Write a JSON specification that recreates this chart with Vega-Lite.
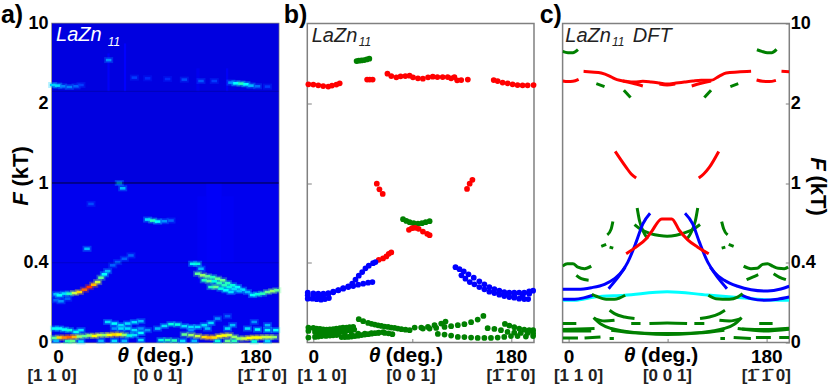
{"$schema":"https://vega.github.io/schema/vega-lite/v6.json","padding":{"left":0,"top":1.5,"right":8,"bottom":2},"background":"white","bounds":"flush","spacing":28.3,"config":{"view":{"stroke":"#808080","strokeWidth":1.5},"text":{"font":"Liberation Sans"},"axis":{"labelFont":"Liberation Sans","labelFontWeight":"bold","labelFontSize":18,"labelColor":"black","domain":false,"grid":false,"title":null,"labelOverlap":false,"labelFlush":false}},
"hconcat":[
{"width":226.7,"height":319,
"encoding":{"x":{"field":"t","type":"quantitative","scale":{"domain":[-5.5,201],"nice":false,"zero":false},"axis":{"values":[0,90,180],"labelExpr":"datum.value==90?'':datum.label","labelFontSize":19,"ticks":false,"labelPadding":5}},"y":{"field":"F","type":"quantitative","scale":{"domain":[0,0.4,1,2,10],"range":[319,239.25,159.5,79.75,0],"nice":false,"zero":false},"axis":{"values":[0,0.4,1,2,10],"labelExpr":"''+datum.value","ticks":false,"labelPadding":4,"labelBaseline":"middle"}}},
"layer":[
{"data":{"values":[{"t":-5.5,"t2":201,"F":0,"F2":1,"v":0.06},{"t":-5.5,"t2":201,"F":1,"F2":10,"v":0.02},{"t":135,"t2":149,"F":0.4,"F2":1,"v":0.085},{"t":127,"t2":135,"F":0.3,"F2":0.9,"v":0.075},{"t":149,"t2":160,"F":0.4,"F2":0.9,"v":0.075},{"t":45,"t2":47,"F":3.2,"F2":7,"v":0.09},{"t":60,"t2":62,"F":3.2,"F2":8,"v":0.1},{"t":126,"t2":129,"F":3.2,"F2":5.5,"v":0.06},{"t":153,"t2":155,"F":3.2,"F2":5.5,"v":0.08}]},"mark":{"type":"rect"},"encoding":{"x2":{"field":"t2"},"y2":{"field":"F2"},"color":{"field":"v","type":"quantitative","legend":null,"scale":{"domain":[0,0.1,0.35,0.5,0.65,0.85,1],"range":["#0000d8","#0000ff","#00ffff","#60ff90","#ffff00","#ff6000","#ff0000"]}}}},
{"data":{"name":"heat","values":[{"t":-4.9,"F":3.83,"v":0.28},{"t":-0.3,"F":3.77,"v":0.3},{"t":4.2,"F":3.7,"v":0.18},{"t":10.3,"F":3.63,"v":0.18},{"t":16.4,"F":3.7,"v":0.15},{"t":20.9,"F":3.83,"v":0.12},{"t":69.5,"F":4.57,"v":0.12},{"t":81.6,"F":4.5,"v":0.11},{"t":99.8,"F":4.43,"v":0.11},{"t":115,"F":4.37,"v":0.13},{"t":130.2,"F":4.23,"v":0.14},{"t":142.3,"F":4.23,"v":0.12},{"t":157.5,"F":4.07,"v":0.2},{"t":162,"F":4,"v":0.35},{"t":166.6,"F":3.97,"v":0.45},{"t":171.1,"F":3.9,"v":0.35},{"t":175.7,"F":3.77,"v":0.25},{"t":181.7,"F":3.7,"v":0.16},{"t":190.8,"F":3.67,"v":0.12},{"t":46.1,"F":6.33,"v":0.2},{"t":26.4,"F":0.505,"v":0.25},{"t":81.6,"F":0.725,"v":0.3},{"t":86.2,"F":0.7175,"v":0.45},{"t":90.7,"F":0.71,"v":0.35},{"t":96.8,"F":0.7125,"v":0.2},{"t":102.9,"F":0.7175,"v":0.15},{"t":55.8,"F":1,"v":0.25},{"t":58.9,"F":0.96,"v":0.25},{"t":30,"F":0.8425,"v":0.13},{"t":5.8,"F":0.245,"v":0.3},{"t":10.3,"F":0.245,"v":0.45},{"t":14.9,"F":0.248,"v":0.6},{"t":19.4,"F":0.253,"v":0.7},{"t":24,"F":0.265,"v":0.85},{"t":28.5,"F":0.278,"v":0.95},{"t":32.5,"F":0.29,"v":0.75},{"t":36.1,"F":0.303,"v":0.6},{"t":39.1,"F":0.325,"v":0.5},{"t":42.2,"F":0.342,"v":0.35},{"t":45.2,"F":0.358,"v":0.25},{"t":49.8,"F":0.387,"v":0.15},{"t":54.3,"F":0.405,"v":0.15},{"t":60.4,"F":0.43,"v":0.15},{"t":66.4,"F":0.455,"v":0.15},{"t":-1.8,"F":0.242,"v":0.25},{"t":1.2,"F":0.237,"v":0.35},{"t":-1.8,"F":0.212,"v":0.15},{"t":2.7,"F":0.207,"v":0.2},{"t":8.8,"F":0.22,"v":0.15},{"t":122.6,"F":0.395,"v":0.35},{"t":127.1,"F":0.395,"v":0.4},{"t":130.2,"F":0.37,"v":0.25},{"t":127.1,"F":0.345,"v":0.5},{"t":131.7,"F":0.337,"v":0.55},{"t":136.2,"F":0.332,"v":0.5},{"t":140.8,"F":0.328,"v":0.45},{"t":145.3,"F":0.32,"v":0.5},{"t":149.9,"F":0.312,"v":0.5},{"t":154.4,"F":0.298,"v":0.45},{"t":159,"F":0.287,"v":0.4},{"t":163.5,"F":0.278,"v":0.35},{"t":168.1,"F":0.265,"v":0.3},{"t":172.6,"F":0.253,"v":0.25},{"t":133.2,"F":0.312,"v":0.45},{"t":137.7,"F":0.308,"v":0.5},{"t":142.3,"F":0.307,"v":0.4},{"t":146.8,"F":0.298,"v":0.45},{"t":151.4,"F":0.287,"v":0.45},{"t":155.9,"F":0.278,"v":0.4},{"t":160.5,"F":0.268,"v":0.3},{"t":165,"F":0.258,"v":0.25},{"t":139.3,"F":0.278,"v":0.45},{"t":143.8,"F":0.278,"v":0.5},{"t":148.4,"F":0.27,"v":0.4},{"t":152.9,"F":0.262,"v":0.35},{"t":157.5,"F":0.253,"v":0.3},{"t":177.2,"F":0.238,"v":0.35},{"t":181.7,"F":0.242,"v":0.4},{"t":186.3,"F":0.245,"v":0.45},{"t":190.8,"F":0.253,"v":0.5},{"t":195.4,"F":0.258,"v":0.55},{"t":199.3,"F":0.262,"v":0.5},{"t":-3.3,"F":0.07,"v":0.35},{"t":1.2,"F":0.07,"v":0.35},{"t":5.8,"F":0.065,"v":0.35},{"t":10.3,"F":0.062,"v":0.4},{"t":16.4,"F":0.053,"v":0.35},{"t":20.9,"F":0.062,"v":0.3},{"t":45.2,"F":0.103,"v":0.3},{"t":51.3,"F":0.095,"v":0.35},{"t":57.3,"F":0.087,"v":0.3},{"t":63.4,"F":0.095,"v":0.3},{"t":69.5,"F":0.102,"v":0.3},{"t":75.5,"F":0.107,"v":0.25},{"t":51.3,"F":0.07,"v":0.2},{"t":57.3,"F":0.07,"v":0.3},{"t":63.4,"F":0.07,"v":0.3},{"t":69.5,"F":0.062,"v":0.3},{"t":75.5,"F":0.048,"v":0.35},{"t":69.5,"F":0.037,"v":0.3},{"t":75.5,"F":0.07,"v":0.2},{"t":81.6,"F":0.062,"v":0.2},{"t":90.7,"F":0.07,"v":0.25},{"t":96.8,"F":0.083,"v":0.3},{"t":102.9,"F":0.092,"v":0.4},{"t":108.9,"F":0.09,"v":0.4},{"t":115,"F":0.082,"v":0.3},{"t":121.1,"F":0.078,"v":0.3},{"t":127.1,"F":0.078,"v":0.3},{"t":133.2,"F":0.087,"v":0.3},{"t":139.3,"F":0.098,"v":0.3},{"t":145.3,"F":0.12,"v":0.2},{"t":154.4,"F":0.132,"v":0.15},{"t":121.1,"F":0.062,"v":0.2},{"t":136.2,"F":0.07,"v":0.25},{"t":154.4,"F":0.07,"v":0.3},{"t":159,"F":0.087,"v":0.25},{"t":172.6,"F":0.07,"v":0.3},{"t":181.7,"F":0.065,"v":0.35},{"t":190.8,"F":0.062,"v":0.35},{"t":198.4,"F":0.062,"v":0.35},{"t":178.7,"F":0.103,"v":0.2},{"t":190.8,"F":0.087,"v":0.25},{"t":-1.8,"F":0.008,"v":0.25},{"t":8.8,"F":0.007,"v":0.45},{"t":13.3,"F":0.007,"v":0.5},{"t":20.9,"F":0.005,"v":0.3},{"t":39.1,"F":0.008,"v":0.25},{"t":51.3,"F":0.008,"v":0.3},{"t":60.4,"F":0.008,"v":0.25},{"t":75.5,"F":0.012,"v":0.3},{"t":93.8,"F":0.012,"v":0.4},{"t":99.8,"F":0.012,"v":0.45},{"t":105.9,"F":0.01,"v":0.45},{"t":113.5,"F":0.008,"v":0.3},{"t":124.1,"F":0.008,"v":0.25},{"t":145.3,"F":0.008,"v":0.4},{"t":154.4,"F":0.008,"v":0.5},{"t":160.5,"F":0.008,"v":0.45},{"t":178.7,"F":0.005,"v":0.4},{"t":190.8,"F":0.007,"v":0.3},{"t":-3.3,"F":0.023,"v":0.5},{"t":1.2,"F":0.025,"v":0.7},{"t":5.8,"F":0.025,"v":0.8},{"t":10.3,"F":0.027,"v":0.85},{"t":14.9,"F":0.028,"v":0.75},{"t":19.4,"F":0.03,"v":0.55},{"t":24,"F":0.032,"v":0.5},{"t":28.5,"F":0.035,"v":0.55},{"t":33.1,"F":0.033,"v":0.65},{"t":37.6,"F":0.037,"v":0.6},{"t":42.2,"F":0.037,"v":0.55},{"t":46.7,"F":0.038,"v":0.65},{"t":51.3,"F":0.04,"v":0.7},{"t":55.8,"F":0.04,"v":0.65},{"t":60.4,"F":0.038,"v":0.55},{"t":64.9,"F":0.035,"v":0.4},{"t":115,"F":0.04,"v":0.5},{"t":121.1,"F":0.037,"v":0.55},{"t":127.1,"F":0.032,"v":0.6},{"t":133.2,"F":0.027,"v":0.7},{"t":137.7,"F":0.025,"v":0.75},{"t":142.3,"F":0.025,"v":0.7},{"t":146.8,"F":0.032,"v":0.65},{"t":151.4,"F":0.035,"v":0.65},{"t":155.9,"F":0.037,"v":0.6},{"t":160.5,"F":0.028,"v":0.55},{"t":165,"F":0.02,"v":0.55},{"t":169.6,"F":0.02,"v":0.6},{"t":174.2,"F":0.023,"v":0.65},{"t":178.7,"F":0.025,"v":0.65},{"t":183.3,"F":0.025,"v":0.65},{"t":187.8,"F":0.027,"v":0.6},{"t":192.4,"F":0.027,"v":0.6},{"t":196.9,"F":0.027,"v":0.55}]},"mark":{"type":"rect","width":9,"height":6,"opacity":0.3},"encoding":{"color":{"field":"v","type":"quantitative","legend":null}}},
{"data":{"name":"heat"},"mark":{"type":"rect","width":5.5,"height":2.6},"encoding":{"color":{"field":"v","type":"quantitative","legend":null}}},
{"data":{"values":[{"t":-5.5,"t2":201,"F":1,"o":0.75},{"t":-5.5,"t2":201,"F":0.4,"o":0.15},{"t":-5.5,"t2":201,"F":3.2,"o":0.2}]},"mark":{"type":"rule","color":"black","strokeWidth":1},"encoding":{"x2":{"field":"t2"},"opacity":{"field":"o","type":"quantitative","scale":null}}},
{"data":{"values":[{"t":-1.8,"F":8.8,"txt":"LaZn"}]},"mark":{"type":"text","align":"left","baseline":"middle","fontSize":20,"fontStyle":"italic","color":"white"},"encoding":{"text":{"field":"txt"}}},
{"data":{"values":[{"t":45.2,"F":8.17,"txt":"11"}]},"mark":{"type":"text","align":"left","baseline":"middle","fontSize":12,"fontStyle":"italic","color":"white"},"encoding":{"text":{"field":"txt"}}},
{"data":{"values":[{"t":-52,"F":10.9,"txt":"a)"}]},"mark":{"type":"text","align":"left","baseline":"middle","fontSize":25,"fontWeight":"bold","color":"black"},"encoding":{"text":{"field":"txt"}}},
{"data":{"values":[{"t":-33.7,"F":0.88,"txt":"F"}]},"mark":{"type":"text","angle":270,"align":"center","baseline":"middle","fontSize":22,"fontStyle":"italic","fontWeight":"bold","color":"black"},"encoding":{"text":{"field":"txt"}}},
{"data":{"values":[{"t":-33.7,"F":1.208,"txt":"(kT)"}]},"mark":{"type":"text","angle":270,"align":"center","baseline":"middle","fontSize":22,"fontWeight":"bold","color":"black"},"encoding":{"text":{"field":"txt"}}},
{"data":{"values":[{"t":59.2,"F":-0.07,"txt":"θ"}]},"mark":{"type":"text","align":"center","baseline":"middle","fontSize":21,"fontStyle":"italic","fontWeight":"bold","color":"black"},"encoding":{"text":{"field":"txt"}}},
{"data":{"values":[{"t":97.5,"F":-0.07,"txt":"(deg.)"}]},"mark":{"type":"text","align":"center","baseline":"middle","fontSize":21,"fontWeight":"bold","color":"black"},"encoding":{"text":{"field":"txt"}}},
{"data":{"values":[{"t":-5.5,"F":-0.17,"txt":"[1 1 0]"},{"t":91,"F":-0.17,"txt":"[0 0 1]"},{"t":186,"F":-0.17,"txt":"[1̄ 1̄ 0]"}]},"mark":{"type":"text","align":"center","baseline":"middle","fontSize":17,"fontWeight":"bold","color":"#222222"},"encoding":{"text":{"field":"txt"}}}
]},
{"width":226.7,"height":319,
"encoding":{"x":{"field":"t","type":"quantitative","scale":{"domain":[-5.5,201],"nice":false,"zero":false},"axis":{"values":[0,90,180],"labelExpr":"datum.value==90?'':datum.label","labelFontSize":19,"tickColor":"#808080","tickSize":-4,"labelPadding":9}},"y":{"field":"F","type":"quantitative","scale":{"domain":[0,0.4,1,2,10],"range":[319,239.25,159.5,79.75,0],"nice":false,"zero":false},"axis":{"values":[0.4,1,2],"labels":false,"tickColor":"#808080","tickSize":-4}}},
"layer":[
{"data":{"values":[
{"t":-4.5,"F":3.9,"c":"red"},{"t":0,"F":3.87,"c":"red"},{"t":4.5,"F":3.8,"c":"red"},{"t":9,"F":3.73,"c":"red"},{"t":13.6,"F":3.67,"c":"red"},{"t":17,"F":3.77,"c":"red"},{"t":21,"F":3.87,"c":"red"},{"t":24,"F":4,"c":"red"},
{"t":39.4,"F":6.23,"c":"green"},{"t":41.4,"F":6.27,"c":"green"},{"t":43.8,"F":6.3,"c":"green"},{"t":46.3,"F":6.33,"c":"green"},{"t":48.7,"F":6.4,"c":"green"},{"t":51,"F":6.47,"c":"green"},
{"t":49,"F":4.37,"c":"red"},{"t":51.4,"F":4.37,"c":"red"},{"t":54,"F":4.37,"c":"red"},
{"t":67.5,"F":4.97,"c":"red"},{"t":71,"F":4.73,"c":"red"},{"t":75.6,"F":4.6,"c":"red"},{"t":79.5,"F":4.7,"c":"red"},{"t":83.8,"F":4.73,"c":"red"},{"t":87.7,"F":4.77,"c":"red"},{"t":90.8,"F":4.6,"c":"red"},{"t":95.3,"F":4.5,"c":"red"},{"t":99.8,"F":4.47,"c":"red"},{"t":104.5,"F":4.6,"c":"red"},{"t":108.8,"F":4.67,"c":"red"},{"t":113,"F":4.63,"c":"red"},{"t":117.8,"F":4.63,"c":"red"},{"t":122.4,"F":4.63,"c":"red"},{"t":125.5,"F":4.5,"c":"red"},{"t":128.5,"F":4.63,"c":"red"},{"t":131,"F":4.3,"c":"red"},{"t":134.7,"F":4.33,"c":"red"},{"t":140.7,"F":4.37,"c":"red"},
{"t":164.3,"F":4.33,"c":"red"},{"t":167.9,"F":4.23,"c":"red"},{"t":172.4,"F":4.07,"c":"red"},{"t":177,"F":4,"c":"red"},{"t":181.5,"F":3.9,"c":"red"},{"t":186,"F":3.83,"c":"red"},{"t":190.6,"F":3.8,"c":"red"},{"t":195.2,"F":3.8,"c":"red"},{"t":200.6,"F":3.83,"c":"red"},
{"t":57.8,"F":0.995,"c":"red"},{"t":60.2,"F":0.9525,"c":"red"},{"t":63.2,"F":0.9175,"c":"red"},
{"t":140,"F":0.955,"c":"red"},{"t":142.4,"F":0.995,"c":"red"},{"t":144.9,"F":1.04,"c":"red"},
{"t":81.7,"F":0.7275,"c":"green"},{"t":84.7,"F":0.715,"c":"green"},{"t":87.7,"F":0.705,"c":"green"},{"t":91.4,"F":0.6975,"c":"green"},{"t":95.3,"F":0.695,"c":"green"},{"t":98.9,"F":0.6975,"c":"green"},{"t":102.3,"F":0.705,"c":"green"},{"t":105.9,"F":0.7125,"c":"green"},
{"t":87.1,"F":0.6475,"c":"red"},{"t":89.8,"F":0.66,"c":"red"},{"t":92.8,"F":0.6625,"c":"red"},{"t":95.9,"F":0.655,"c":"red"},{"t":99.8,"F":0.635,"c":"red"},{"t":103.7,"F":0.6175,"c":"red"},{"t":105.9,"F":0.6075,"c":"red"},
{"t":59.6,"F":0.4225,"c":"red"},{"t":63.5,"F":0.4325,"c":"red"},{"t":66.5,"F":0.4475,"c":"red"},{"t":68.7,"F":0.4675,"c":"red"},{"t":71,"F":0.4775,"c":"red"},
{"t":-5.1,"F":0.25,"c":"blue"},{"t":0,"F":0.247,"c":"blue"},{"t":4.5,"F":0.245,"c":"blue"},{"t":9.1,"F":0.245,"c":"blue"},{"t":13.6,"F":0.248,"c":"blue"},{"t":18.1,"F":0.255,"c":"blue"},{"t":22.7,"F":0.263,"c":"blue"},{"t":27.2,"F":0.273,"c":"blue"},{"t":31.8,"F":0.282,"c":"blue"},{"t":35.4,"F":0.295,"c":"blue"},{"t":38.4,"F":0.315,"c":"blue"},{"t":41.4,"F":0.335,"c":"blue"},{"t":44.5,"F":0.353,"c":"blue"},{"t":47.5,"F":0.372,"c":"blue"},{"t":50.5,"F":0.385,"c":"blue"},{"t":54.4,"F":0.398,"c":"blue"},{"t":56.6,"F":0.405,"c":"blue"},
{"t":-5.1,"F":0.237,"c":"blue"},{"t":0,"F":0.237,"c":"blue"},{"t":4.5,"F":0.235,"c":"blue"},{"t":9.1,"F":0.237,"c":"blue"},{"t":13.6,"F":0.242,"c":"blue"},{"t":18.1,"F":0.252,"c":"blue"},{"t":22.7,"F":0.262,"c":"blue"},{"t":27.2,"F":0.27,"c":"blue"},{"t":31.8,"F":0.278,"c":"blue"},{"t":36.3,"F":0.283,"c":"blue"},{"t":40.8,"F":0.29,"c":"blue"},{"t":45.4,"F":0.295,"c":"blue"},{"t":49.9,"F":0.3,"c":"blue"},{"t":53.8,"F":0.303,"c":"blue"},
{"t":-5.1,"F":0.22,"c":"blue"},{"t":-0.9,"F":0.22,"c":"blue"},{"t":3,"F":0.217,"c":"blue"},{"t":7,"F":0.215,"c":"blue"},{"t":10.6,"F":0.218,"c":"blue"},{"t":14.2,"F":0.223,"c":"blue"},
{"t":129.5,"F":0.378,"c":"blue"},{"t":133.1,"F":0.368,"c":"blue"},{"t":137,"F":0.357,"c":"blue"},{"t":141.3,"F":0.342,"c":"blue"},{"t":146.1,"F":0.325,"c":"blue"},{"t":151.2,"F":0.307,"c":"blue"},{"t":155.8,"F":0.292,"c":"blue"},{"t":160.3,"F":0.278,"c":"blue"},{"t":164.9,"F":0.268,"c":"blue"},{"t":169.4,"F":0.26,"c":"blue"},{"t":173.9,"F":0.253,"c":"blue"},{"t":178.5,"F":0.25,"c":"blue"},{"t":183,"F":0.25,"c":"blue"},{"t":187.5,"F":0.25,"c":"blue"},{"t":192.1,"F":0.25,"c":"blue"},{"t":196.6,"F":0.257,"c":"blue"},{"t":200.2,"F":0.26,"c":"blue"},
{"t":134.9,"F":0.337,"c":"blue"},{"t":138.5,"F":0.32,"c":"blue"},{"t":142.5,"F":0.303,"c":"blue"},{"t":146.7,"F":0.292,"c":"blue"},{"t":151.2,"F":0.278,"c":"blue"},{"t":155.8,"F":0.267,"c":"blue"},{"t":160.3,"F":0.255,"c":"blue"},{"t":164.9,"F":0.248,"c":"blue"},{"t":169.4,"F":0.24,"c":"blue"},{"t":173.9,"F":0.233,"c":"blue"},{"t":178.5,"F":0.228,"c":"blue"},{"t":183,"F":0.225,"c":"blue"},{"t":187.5,"F":0.22,"c":"blue"},{"t":192.1,"F":0.218,"c":"blue"},{"t":195.7,"F":0.218,"c":"blue"},
{"t":173.9,"F":0.245,"c":"blue"},{"t":183,"F":0.235,"c":"blue"},{"t":190.6,"F":0.235,"c":"blue"},{"t":196.6,"F":0.245,"c":"blue"},
{"t":41.4,"F":0.117,"c":"green"},{"t":45.4,"F":0.107,"c":"green"},{"t":49.9,"F":0.098,"c":"green"},{"t":53,"F":0.094,"c":"green"},{"t":56,"F":0.09,"c":"green"},{"t":59,"F":0.086,"c":"green"},{"t":62,"F":0.083,"c":"green"},{"t":65,"F":0.08,"c":"green"},{"t":68.1,"F":0.078,"c":"green"},{"t":71,"F":0.075,"c":"green"},{"t":74.1,"F":0.073,"c":"green"},{"t":77,"F":0.07,"c":"green"},{"t":80.2,"F":0.067,"c":"green"},{"t":84,"F":0.064,"c":"green"},{"t":87.7,"F":0.062,"c":"green"},{"t":92.3,"F":0.075,"c":"green"},{"t":98.3,"F":0.075,"c":"green"},{"t":104.4,"F":0.078,"c":"green"},{"t":110.4,"F":0.087,"c":"green"},{"t":116.5,"F":0.095,"c":"green"},{"t":120.4,"F":0.105,"c":"green"},
{"t":99.8,"F":0.07,"c":"green"},{"t":105.9,"F":0.07,"c":"green"},{"t":111.9,"F":0.073,"c":"green"},{"t":119.5,"F":0.078,"c":"green"},{"t":125.5,"F":0.082,"c":"green"},{"t":131.6,"F":0.087,"c":"green"},{"t":137.6,"F":0.092,"c":"green"},{"t":143.7,"F":0.102,"c":"green"},{"t":149.7,"F":0.115,"c":"green"},{"t":154.9,"F":0.133,"c":"green"},
{"t":113.4,"F":0.043,"c":"green"},{"t":119.5,"F":0.04,"c":"green"},{"t":125.5,"F":0.035,"c":"green"},{"t":131.6,"F":0.028,"c":"green"},{"t":137.6,"F":0.027,"c":"green"},{"t":143.7,"F":0.025,"c":"green"},{"t":149.7,"F":0.023,"c":"green"},{"t":155.8,"F":0.023,"c":"green"},{"t":161.8,"F":0.023,"c":"green"},{"t":167.9,"F":0.025,"c":"green"},{"t":173.9,"F":0.028,"c":"green"},{"t":180,"F":0.032,"c":"green"},{"t":186,"F":0.032,"c":"green"},{"t":193.6,"F":0.03,"c":"green"},{"t":200.2,"F":0.032,"c":"green"},
{"t":158.8,"F":0.072,"c":"green"},{"t":164.9,"F":0.068,"c":"green"},{"t":170.9,"F":0.062,"c":"green"},{"t":176.9,"F":0.053,"c":"green"},{"t":183,"F":0.05,"c":"green"},{"t":189,"F":0.048,"c":"green"},{"t":195.1,"F":0.048,"c":"green"},{"t":200.2,"F":0.047,"c":"green"},
{"t":174.5,"F":0.093,"c":"green"},{"t":178.5,"F":0.085,"c":"green"},{"t":183,"F":0.077,"c":"green"},{"t":187.5,"F":0.07,"c":"green"},{"t":192.1,"F":0.065,"c":"green"},{"t":196.6,"F":0.062,"c":"green"},{"t":200.2,"F":0.062,"c":"green"},
{"t":-4.5,"F":0.075,"c":"green"},{"t":0,"F":0.073,"c":"green"},{"t":3,"F":0.07,"c":"green"},{"t":6,"F":0.068,"c":"green"},{"t":9,"F":0.066,"c":"green"},{"t":12.1,"F":0.065,"c":"green"},{"t":15,"F":0.066,"c":"green"},{"t":18.1,"F":0.067,"c":"green"},{"t":21,"F":0.07,"c":"green"},{"t":24.2,"F":0.072,"c":"green"},{"t":27,"F":0.074,"c":"green"},{"t":30.2,"F":0.075,"c":"green"},{"t":33,"F":0.077,"c":"green"},{"t":36.3,"F":0.078,"c":"green"},
{"t":-4.5,"F":0.058,"c":"green"},{"t":1.5,"F":0.053,"c":"green"},{"t":4.5,"F":0.052,"c":"green"},{"t":7.6,"F":0.05,"c":"green"},{"t":10.6,"F":0.049,"c":"green"},{"t":13.6,"F":0.048,"c":"green"},{"t":16.6,"F":0.05,"c":"green"},{"t":19.7,"F":0.052,"c":"green"},{"t":22.7,"F":0.054,"c":"green"},{"t":25.7,"F":0.055,"c":"green"},{"t":28.7,"F":0.058,"c":"green"},{"t":31.8,"F":0.062,"c":"green"},{"t":34.5,"F":0.063,"c":"green"},{"t":37.2,"F":0.065,"c":"green"},
{"t":-4.5,"F":0.025,"c":"green"},{"t":1.5,"F":0.028,"c":"green"},{"t":4.5,"F":0.03,"c":"green"},{"t":7.6,"F":0.032,"c":"green"},{"t":11.5,"F":0.033,"c":"green"},{"t":15.1,"F":0.035,"c":"green"},{"t":18,"F":0.036,"c":"green"},{"t":21.2,"F":0.037,"c":"green"},{"t":25.7,"F":0.027,"c":"green"},{"t":28.7,"F":0.027,"c":"green"},{"t":31.8,"F":0.028,"c":"green"},{"t":34.8,"F":0.03,"c":"green"},{"t":37.8,"F":0.032,"c":"green"},{"t":40.8,"F":0.034,"c":"green"},{"t":43.9,"F":0.037,"c":"green"},{"t":46.9,"F":0.04,"c":"green"},{"t":49.9,"F":0.042,"c":"green"},{"t":53,"F":0.044,"c":"green"},{"t":56,"F":0.047,"c":"green"},{"t":59.7,"F":0.05,"c":"green"},{"t":63.5,"F":0.052,"c":"green"},
{"t":22.7,"F":0.045,"c":"green"},{"t":28.7,"F":0.045,"c":"green"},{"t":34.8,"F":0.04,"c":"green"},{"t":40.8,"F":0.045,"c":"green"},{"t":46.9,"F":0.045,"c":"green"},{"t":52.9,"F":0.047,"c":"green"},{"t":59,"F":0.048,"c":"green"},{"t":65,"F":0.048,"c":"green"},{"t":68.5,"F":0.046,"c":"green"},{"t":72,"F":0.042,"c":"green"}
]},"mark":{"type":"circle","size":33,"opacity":1},"encoding":{"color":{"field":"c","type":"nominal","legend":null,"scale":{"domain":["red","green","blue","cyan"],"range":["#ff0000","#008000","#0000ff","#00ffff"]}}}},
{"data":{"values":[{"t":-1.5,"F":8.73,"txt":"LaZn"}]},"mark":{"type":"text","align":"left","baseline":"middle","fontSize":20,"fontStyle":"italic","color":"#222222"},"encoding":{"text":{"field":"txt"}}},
{"data":{"values":[{"t":41.4,"F":8.17,"txt":"11"}]},"mark":{"type":"text","align":"left","baseline":"middle","fontSize":12,"fontStyle":"italic","color":"#222222"},"encoding":{"text":{"field":"txt"}}},
{"data":{"values":[{"t":-27,"F":10.9,"txt":"b)"}]},"mark":{"type":"text","align":"left","baseline":"middle","fontSize":25,"fontWeight":"bold","color":"black"},"encoding":{"text":{"field":"txt"}}},
{"data":{"values":[{"t":55.7,"F":-0.07,"txt":"θ"}]},"mark":{"type":"text","align":"center","baseline":"middle","fontSize":21,"fontStyle":"italic","fontWeight":"bold","color":"black"},"encoding":{"text":{"field":"txt"}}},
{"data":{"values":[{"t":92,"F":-0.07,"txt":"(deg.)"}]},"mark":{"type":"text","align":"center","baseline":"middle","fontSize":21,"fontWeight":"bold","color":"black"},"encoding":{"text":{"field":"txt"}}},
{"data":{"values":[{"t":8,"F":-0.17,"txt":"[1 1 0]"},{"t":89,"F":-0.17,"txt":"[0 0 1]"},{"t":180,"F":-0.17,"txt":"[1̄ 1̄ 0]"}]},"mark":{"type":"text","align":"center","baseline":"middle","fontSize":17,"fontWeight":"bold","color":"#222222"},"encoding":{"text":{"field":"txt"}}}
]},
{"width":226.7,"height":319,
"encoding":{"x":{"field":"t","type":"quantitative","scale":{"domain":[-5.5,201],"nice":false,"zero":false},"axis":{"values":[0,90,180],"labelExpr":"datum.value==90?'':datum.label","labelFontSize":19,"tickColor":"#808080","tickSize":-4,"labelPadding":9}},"y":{"field":"F","type":"quantitative","scale":{"domain":[0,0.4,1,2,10],"range":[319,239.25,159.5,79.75,0],"nice":false,"zero":false},"axis":{"orient":"right","values":[0,0.4,1,2,10],"labelExpr":"''+datum.value","tickColor":"#808080","tickSize":-4,"labelPadding":5,"labelBaseline":"middle"}}},
"layer":[
{"data":{"values":[
{"s":1,"c":"green","t":-5.5,"F":7.2},{"s":1,"c":"green","t":-0.6,"F":7.07},{"s":1,"c":"green","t":3.9,"F":7.07},{"s":1,"c":"green","t":8.5,"F":7.37},
{"s":2,"c":"green","t":171.5,"F":7.37},{"s":2,"c":"green","t":176,"F":7.2},{"s":2,"c":"green","t":181,"F":7.07},{"s":2,"c":"green","t":185,"F":7.07},{"s":2,"c":"green","t":189.4,"F":7.4},
{"s":3,"c":"red","t":-5.5,"F":4.23},{"s":3,"c":"red","t":-0.6,"F":4.17},{"s":3,"c":"red","t":3.9,"F":4.2},{"s":3,"c":"red","t":9.1,"F":4.4},
{"s":4,"c":"red","t":171.2,"F":4.33},{"s":4,"c":"red","t":176.7,"F":4.2},{"s":4,"c":"red","t":182.7,"F":4.17},{"s":4,"c":"red","t":188.8,"F":4.3},
{"s":5,"c":"red","t":193.9,"F":5.2},{"s":5,"c":"red","t":200.9,"F":5.17},
{"s":6,"c":"red","t":13.6,"F":5.2},{"s":6,"c":"red","t":20.6,"F":5.13},{"s":6,"c":"red","t":29.7,"F":5.03},{"s":6,"c":"red","t":37.3,"F":4.73},{"s":6,"c":"red","t":41.8,"F":4.47},{"s":6,"c":"red","t":46.4,"F":4.3},{"s":6,"c":"red","t":52.4,"F":4.2},{"s":6,"c":"red","t":60,"F":4.13},{"s":6,"c":"red","t":67.6,"F":4.2},{"s":6,"c":"red","t":75.2,"F":4.13},{"s":6,"c":"red","t":82.7,"F":4.03},{"s":6,"c":"red","t":89.7,"F":3.93},{"s":6,"c":"red","t":97.9,"F":4.03},{"s":6,"c":"red","t":105.5,"F":4.13},{"s":6,"c":"red","t":113.2,"F":4.23},{"s":6,"c":"red","t":120.8,"F":4.3},{"s":6,"c":"red","t":129.8,"F":4.3},{"s":6,"c":"red","t":137.3,"F":4.73},{"s":6,"c":"red","t":143.5,"F":5.03},{"s":6,"c":"red","t":154,"F":5.13},{"s":6,"c":"red","t":166.2,"F":5.2},
{"s":7,"c":"red","t":49.4,"F":4.23},{"s":7,"c":"red","t":58.5,"F":4},{"s":7,"c":"red","t":67.6,"F":3.73},
{"s":8,"c":"red","t":112.1,"F":3.73},{"s":8,"c":"red","t":120.6,"F":4},{"s":8,"c":"red","t":129.7,"F":4.23},
{"s":9,"c":"red","t":82.7,"F":3.93},{"s":9,"c":"red","t":89.7,"F":3.83},{"s":9,"c":"red","t":97,"F":3.93},
{"s":10,"c":"green","t":25.2,"F":3.97},{"s":10,"c":"green","t":32.7,"F":3.67},
{"s":11,"c":"green","t":147.3,"F":3.67},{"s":11,"c":"green","t":154.5,"F":3.97},
{"s":12,"c":"green","t":50.3,"F":3.3},{"s":12,"c":"green","t":56.4,"F":2.57},
{"s":13,"c":"green","t":123.6,"F":2.57},{"s":13,"c":"green","t":129.7,"F":3.3},
{"s":14,"c":"red","t":42.4,"F":1.396},{"s":14,"c":"red","t":52.4,"F":1.196},{"s":14,"c":"red","t":57,"F":1.1125},{"s":14,"c":"red","t":61.5,"F":1.0625},
{"s":15,"c":"red","t":118.5,"F":1.0625},{"s":15,"c":"red","t":123,"F":1.1125},{"s":15,"c":"red","t":128.1,"F":1.196},{"s":15,"c":"red","t":136.7,"F":1.396},
{"s":16,"c":"green","t":62.4,"F":0.8125},{"s":16,"c":"green","t":64.5,"F":0.7175},{"s":16,"c":"green","t":69.1,"F":0.6175},{"s":16,"c":"green","t":72.1,"F":0.58},
{"s":17,"c":"green","t":60,"F":0.6875},{"s":17,"c":"green","t":66,"F":0.65},{"s":17,"c":"green","t":75.2,"F":0.6175},{"s":17,"c":"green","t":82.7,"F":0.605},{"s":17,"c":"green","t":89.7,"F":0.6},{"s":17,"c":"green","t":97.9,"F":0.6075},{"s":17,"c":"green","t":105.5,"F":0.625},{"s":17,"c":"green","t":113.2,"F":0.65},{"s":17,"c":"green","t":119.7,"F":0.6875},
{"s":18,"c":"green","t":107.9,"F":0.58},{"s":18,"c":"green","t":110.9,"F":0.6175},{"s":18,"c":"green","t":115.5,"F":0.7175},{"s":18,"c":"green","t":117.6,"F":0.8125},
{"s":19,"c":"blue","t":-5.5,"F":0.267},{"s":19,"c":"blue","t":8.5,"F":0.267},{"s":19,"c":"blue","t":20.6,"F":0.275},{"s":19,"c":"blue","t":32.7,"F":0.292},{"s":19,"c":"blue","t":41.8,"F":0.32},{"s":19,"c":"blue","t":49.4,"F":0.362},{"s":19,"c":"blue","t":53.9,"F":0.405},{"s":19,"c":"blue","t":61.5,"F":0.555},{"s":19,"c":"blue","t":67.6,"F":0.6925},{"s":19,"c":"blue","t":74.2,"F":0.7725},
{"s":20,"c":"blue","t":106,"F":0.7725},{"s":20,"c":"blue","t":113,"F":0.6925},{"s":20,"c":"blue","t":119.1,"F":0.555},{"s":20,"c":"blue","t":126.7,"F":0.405},{"s":20,"c":"blue","t":132.7,"F":0.353},{"s":20,"c":"blue","t":141.8,"F":0.312},{"s":20,"c":"blue","t":154,"F":0.282},{"s":20,"c":"blue","t":166.2,"F":0.265},{"s":20,"c":"blue","t":181.2,"F":0.258},{"s":20,"c":"blue","t":193.3,"F":0.268},{"s":20,"c":"blue","t":200.9,"F":0.282},
{"s":21,"c":"blue","t":36.4,"F":0.27},{"s":21,"c":"blue","t":43.3,"F":0.315},{"s":21,"c":"blue","t":51.5,"F":0.378},
{"s":22,"c":"blue","t":129.1,"F":0.378},{"s":22,"c":"blue","t":137.3,"F":0.315},{"s":22,"c":"blue","t":144.2,"F":0.27},
{"s":23,"c":"cyan","t":-5.5,"F":0.212},{"s":23,"c":"cyan","t":5.5,"F":0.212},{"s":23,"c":"cyan","t":23.6,"F":0.228},{"s":23,"c":"cyan","t":50.9,"F":0.237},{"s":23,"c":"cyan","t":89.7,"F":0.255},{"s":23,"c":"cyan","t":126.7,"F":0.238},{"s":23,"c":"cyan","t":157,"F":0.225},{"s":23,"c":"cyan","t":178.2,"F":0.215},{"s":23,"c":"cyan","t":200.9,"F":0.212},
{"s":24,"c":"blue","t":-5.5,"F":0.217},{"s":24,"c":"blue","t":5.5,"F":0.217},{"s":24,"c":"blue","t":14.5,"F":0.225},{"s":24,"c":"blue","t":22.1,"F":0.237},
{"s":25,"c":"blue","t":157.6,"F":0.237},{"s":25,"c":"blue","t":166,"F":0.22},{"s":25,"c":"blue","t":178.2,"F":0.212},{"s":25,"c":"blue","t":190.3,"F":0.217},{"s":25,"c":"blue","t":200.9,"F":0.228},
{"s":26,"c":"red","t":52.4,"F":0.4675},{"s":26,"c":"red","t":60,"F":0.51},{"s":26,"c":"red","t":70.6,"F":0.58},{"s":26,"c":"red","t":75.2,"F":0.63},{"s":26,"c":"red","t":84.8,"F":0.73},{"s":26,"c":"red","t":93.9,"F":0.73},{"s":26,"c":"red","t":100.9,"F":0.6425},{"s":26,"c":"red","t":108.5,"F":0.5725},{"s":26,"c":"red","t":117.6,"F":0.5175},{"s":26,"c":"red","t":127.6,"F":0.4675},
{"s":27,"c":"green","t":35.2,"F":0.61},{"s":27,"c":"green","t":38.8,"F":0.655},{"s":27,"c":"green","t":40.3,"F":0.71},
{"s":28,"c":"green","t":139.4,"F":0.71},{"s":28,"c":"green","t":141.2,"F":0.655},{"s":28,"c":"green","t":144.8,"F":0.61},
{"s":29,"c":"green","t":29.7,"F":0.5225},{"s":29,"c":"green","t":34.2,"F":0.5375},
{"s":30,"c":"green","t":37.3,"F":0.5175},{"s":30,"c":"green","t":40.6,"F":0.51},
{"s":31,"c":"green","t":139.4,"F":0.51},{"s":31,"c":"green","t":142.7,"F":0.5175},
{"s":32,"c":"green","t":145.8,"F":0.5375},{"s":32,"c":"green","t":150.3,"F":0.5225},
{"s":33,"c":"green","t":-5.5,"F":0.383},{"s":33,"c":"green","t":-1.2,"F":0.395},{"s":33,"c":"green","t":3.9,"F":0.395},{"s":33,"c":"green","t":8.5,"F":0.378},{"s":33,"c":"green","t":14.5,"F":0.37},{"s":33,"c":"green","t":20.6,"F":0.383},
{"s":34,"c":"green","t":159.4,"F":0.383},{"s":34,"c":"green","t":166,"F":0.37},{"s":34,"c":"green","t":171.6,"F":0.372},{"s":34,"c":"green","t":176.7,"F":0.392},{"s":34,"c":"green","t":181.2,"F":0.395},{"s":34,"c":"green","t":185.8,"F":0.383},{"s":34,"c":"green","t":190.9,"F":0.372},{"s":34,"c":"green","t":196.4,"F":0.37},{"s":34,"c":"green","t":200,"F":0.378},
{"s":35,"c":"green","t":7,"F":0.337},{"s":35,"c":"green","t":11.5,"F":0.32},{"s":35,"c":"green","t":18.2,"F":0.312},
{"s":36,"c":"green","t":162.1,"F":0.315},{"s":36,"c":"green","t":167.6,"F":0.328},{"s":36,"c":"green","t":172.7,"F":0.34},
{"s":37,"c":"green","t":186.7,"F":0.345},{"s":37,"c":"green","t":191.8,"F":0.328},{"s":37,"c":"green","t":197.9,"F":0.315},
{"s":38,"c":"green","t":21.2,"F":0.242},{"s":38,"c":"green","t":25.2,"F":0.232},{"s":38,"c":"green","t":34.2,"F":0.217},{"s":38,"c":"green","t":41.8,"F":0.217},{"s":38,"c":"green","t":51.5,"F":0.237},
{"s":39,"c":"green","t":127.3,"F":0.237},{"s":39,"c":"green","t":134.2,"F":0.22},{"s":39,"c":"green","t":146.4,"F":0.217},{"s":39,"c":"green","t":153.9,"F":0.228},{"s":39,"c":"green","t":158.5,"F":0.245},
{"s":40,"c":"green","t":37.3,"F":0.162},{"s":40,"c":"green","t":41.8,"F":0.145},{"s":40,"c":"green","t":50.9,"F":0.128},{"s":40,"c":"green","t":60,"F":0.12},
{"s":41,"c":"green","t":119.7,"F":0.12},{"s":41,"c":"green","t":128.2,"F":0.128},{"s":41,"c":"green","t":137.3,"F":0.145},{"s":41,"c":"green","t":142.4,"F":0.162},
{"s":42,"c":"green","t":22.7,"F":0.125},{"s":42,"c":"green","t":29.7,"F":0.092},{"s":42,"c":"green","t":38.8,"F":0.07},{"s":42,"c":"green","t":50.9,"F":0.057},{"s":42,"c":"green","t":69.1,"F":0.045},{"s":42,"c":"green","t":89.7,"F":0.04},{"s":42,"c":"green","t":111.5,"F":0.045},{"s":42,"c":"green","t":129.7,"F":0.057},{"s":42,"c":"green","t":141.8,"F":0.07},{"s":42,"c":"green","t":150.9,"F":0.092},{"s":42,"c":"green","t":157.6,"F":0.125},
{"s":43,"c":"green","t":38.8,"F":0.062},{"s":43,"c":"green","t":63,"F":0.048},{"s":43,"c":"green","t":89.7,"F":0.045},{"s":43,"c":"green","t":117.6,"F":0.048},{"s":43,"c":"green","t":141.8,"F":0.062},
{"s":44,"c":"green","t":-5.5,"F":0.095},{"s":44,"c":"green","t":7,"F":0.095},
{"s":45,"c":"green","t":-5.5,"F":0.065},{"s":45,"c":"green","t":23.6,"F":0.07},
{"s":46,"c":"green","t":-5.5,"F":0.058},{"s":46,"c":"green","t":20.6,"F":0.058},
{"s":47,"c":"green","t":23.6,"F":0.12},{"s":47,"c":"green","t":32.7,"F":0.108},{"s":47,"c":"green","t":41.8,"F":0.112},
{"s":48,"c":"green","t":57,"F":0.095},{"s":48,"c":"green","t":65.5,"F":0.095},
{"s":49,"c":"green","t":73.6,"F":0.095},{"s":49,"c":"green","t":89.7,"F":0.098},{"s":49,"c":"green","t":107.9,"F":0.095},
{"s":50,"c":"green","t":114.5,"F":0.095},{"s":50,"c":"green","t":123.6,"F":0.095},
{"s":51,"c":"green","t":137.3,"F":0.112},{"s":51,"c":"green","t":146.4,"F":0.108},{"s":51,"c":"green","t":157,"F":0.12},
{"s":52,"c":"green","t":173.6,"F":0.095},{"s":52,"c":"green","t":185.8,"F":0.095},
{"s":53,"c":"green","t":154,"F":0.07},{"s":53,"c":"green","t":178,"F":0.058},{"s":53,"c":"green","t":200.9,"F":0.067},
{"s":54,"c":"green","t":158,"F":0.068},{"s":54,"c":"green","t":178,"F":0.065},{"s":54,"c":"green","t":200.9,"F":0.072},
{"s":55,"c":"green","t":-5.5,"F":0.023},{"s":55,"c":"green","t":8.5,"F":0.023},
{"s":56,"c":"green","t":14.5,"F":0.023},{"s":56,"c":"green","t":29,"F":0.028},
{"s":57,"c":"green","t":37.3,"F":0.02},{"s":57,"c":"green","t":41.2,"F":0.02},
{"s":58,"c":"green","t":138.2,"F":0.02},{"s":58,"c":"green","t":142.4,"F":0.02},
{"s":59,"c":"green","t":150.3,"F":0.025},{"s":59,"c":"green","t":166,"F":0.02},
{"s":60,"c":"green","t":170.6,"F":0.025},{"s":60,"c":"green","t":184.2,"F":0.025},
{"s":61,"c":"green","t":191.8,"F":0.025},{"s":61,"c":"green","t":200.9,"F":0.025}
]},"mark":{"type":"line","strokeWidth":3,"interpolate":"monotone","clip":true},"encoding":{"detail":{"field":"s","type":"nominal"},"color":{"field":"c","type":"nominal","legend":null,"scale":{"domain":["red","green","blue","cyan"],"range":["#ff0000","#008000","#0000ff","#00ffff"]}}}},
{"data":{"values":[{"t":-3,"F":8.73,"txt":"LaZn"},{"t":58.5,"F":8.73,"txt":"DFT"}]},"mark":{"type":"text","align":"left","baseline":"middle","fontSize":20,"fontStyle":"italic","color":"#222222"},"encoding":{"text":{"field":"txt"}}},
{"data":{"values":[{"t":39.4,"F":8.17,"txt":"11"}]},"mark":{"type":"text","align":"left","baseline":"middle","fontSize":12,"fontStyle":"italic","color":"#222222"},"encoding":{"text":{"field":"txt"}}},
{"data":{"values":[{"t":-26.4,"F":10.9,"txt":"c)"}]},"mark":{"type":"text","align":"left","baseline":"middle","fontSize":25,"fontWeight":"bold","color":"black"},"encoding":{"text":{"field":"txt"}}},
{"data":{"values":[{"t":55.5,"F":-0.07,"txt":"θ"}]},"mark":{"type":"text","align":"center","baseline":"middle","fontSize":21,"fontStyle":"italic","fontWeight":"bold","color":"black"},"encoding":{"text":{"field":"txt"}}},
{"data":{"values":[{"t":92,"F":-0.07,"txt":"(deg.)"}]},"mark":{"type":"text","align":"center","baseline":"middle","fontSize":21,"fontWeight":"bold","color":"black"},"encoding":{"text":{"field":"txt"}}},
{"data":{"values":[{"t":9,"F":-0.17,"txt":"[1 1 0]"},{"t":90,"F":-0.17,"txt":"[0 0 1]"},{"t":180,"F":-0.17,"txt":"[1̄ 1̄ 0]"}]},"mark":{"type":"text","align":"center","baseline":"middle","fontSize":17,"fontWeight":"bold","color":"#222222"},"encoding":{"text":{"field":"txt"}}},
{"data":{"values":[{"t":227,"F":1.24,"txt":"F"}]},"mark":{"type":"text","angle":90,"align":"center","baseline":"middle","fontSize":22,"fontStyle":"italic","fontWeight":"bold","color":"black"},"encoding":{"text":{"field":"txt"}}},
{"data":{"values":[{"t":227,"F":0.905,"txt":"(kT)"}]},"mark":{"type":"text","angle":90,"align":"center","baseline":"middle","fontSize":22,"fontWeight":"bold","color":"black"},"encoding":{"text":{"field":"txt"}}}
]}
]}
